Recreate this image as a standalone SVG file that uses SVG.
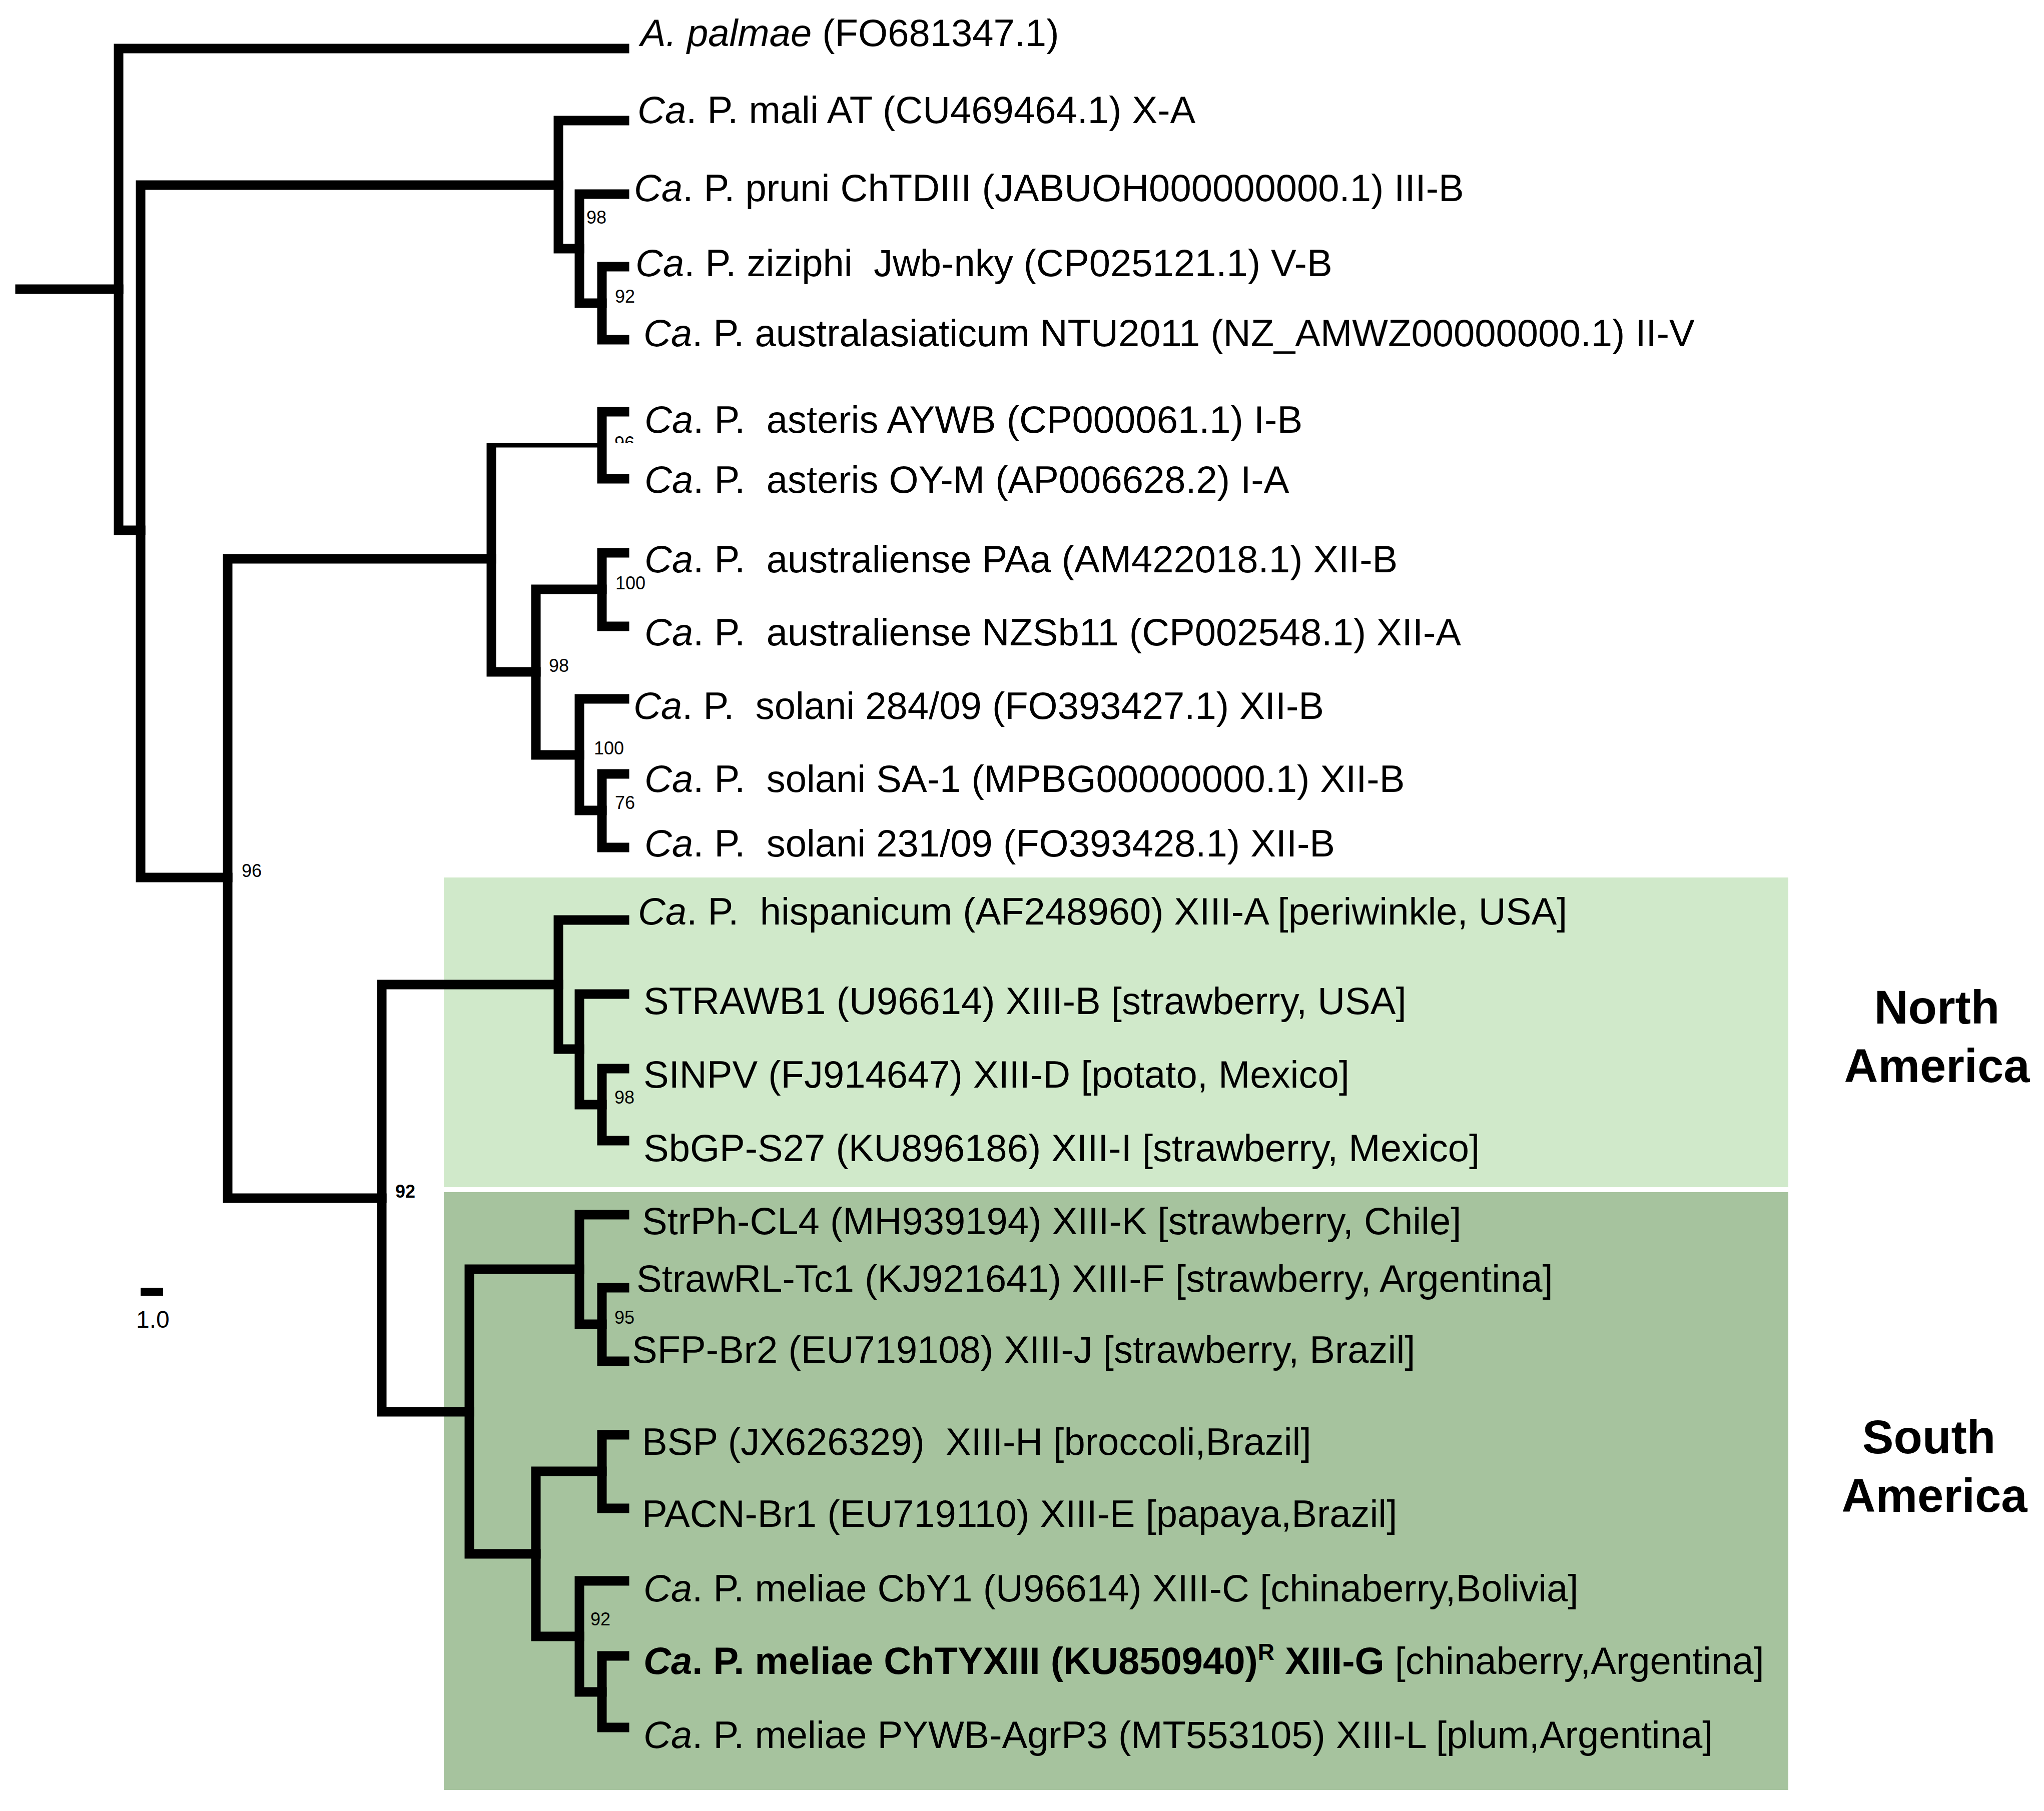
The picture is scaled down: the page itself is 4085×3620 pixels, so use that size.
<svg xmlns="http://www.w3.org/2000/svg" width="4085" height="3620" viewBox="0 0 4085 3620">
<defs>
<style>
.br{fill:none;stroke:#000;stroke-width:19;stroke-linecap:square;stroke-linejoin:miter}
.thin{fill:none;stroke:#000;stroke-width:9;stroke-linecap:butt}
.lf{font-family:"Liberation Sans",Arial,sans-serif;font-size:76px;fill:#000}
.bs{font-family:"Liberation Sans",Arial,sans-serif;font-size:36px;fill:#000}
.rg{font-family:"Liberation Sans",Arial,sans-serif;font-size:94px;font-weight:bold;fill:#000;text-anchor:middle}
.i{font-style:italic}
.b{font-weight:bold}
</style>
<clipPath id="clip96"><rect x="1200" y="850" width="100" height="36"/></clipPath>
</defs>
<rect width="4085" height="3620" fill="#fff"/>
<g id="clade-north-america"><rect x="887" y="1754" width="2687" height="619" fill="#d0e9ca"/></g>
<g id="clade-south-america"><rect x="887" y="2383" width="2687" height="1195" fill="#a6c39e"/></g>
<g id="connectors">
<path class="br" d="M40 578 H237"/>
<path class="br" d="M1248 97 H237 V1060 H281"/>
<path class="br" d="M1116 370 H281 V1754 H455"/>
<path class="br" d="M1248 241 H1116 V497 H1158"/>
<path class="br" d="M1248 388 H1158 V606 H1203"/>
<path class="br" d="M1248 533 H1203 V679 H1248"/>
<path class="br" d="M982 1117 H455 V2395 H763"/>
<path class="br" d="M982 895 V1343 H1071"/>
<path class="thin" d="M982 890 H1203"/>
<path class="br" d="M1248 823 H1203 V957 H1248"/>
<path class="br" d="M1203 1178 H1071 V1509 H1158"/>
<path class="br" d="M1248 1105 H1203 V1252 H1248"/>
<path class="br" d="M1248 1397 H1158 V1620 H1203"/>
<path class="br" d="M1248 1547 H1203 V1694 H1248"/>
<path class="br" d="M1116 1968 H763 V2822 H938"/>
<path class="br" d="M1248 1839 H1116 V2097 H1158"/>
<path class="br" d="M1248 1987 H1158 V2208 H1203"/>
<path class="br" d="M1248 2136 H1203 V2280 H1248"/>
<path class="br" d="M1158 2537 H938 V3106 H1071"/>
<path class="br" d="M1248 2428 H1158 V2647 H1203"/>
<path class="br" d="M1248 2574 H1203 V2721 H1248"/>
<path class="br" d="M1203 2941 H1071 V3271 H1158"/>
<path class="br" d="M1248 2868 H1203 V3015 H1248"/>
<path class="br" d="M1248 3160 H1158 V3382 H1203"/>
<path class="br" d="M1248 3310 H1203 V3453 H1248"/>
</g>
<g id="bootstrap">
<text class="bs" x="1172" y="447">98</text>
<text class="bs" x="1229" y="605">92</text>
<text class="bs" x="1228" y="898" clip-path="url(#clip96)">96</text>
<text class="bs" x="1230" y="1178">100</text>
<text class="bs" x="1097" y="1343">98</text>
<text class="bs" x="1187" y="1508">100</text>
<text class="bs" x="1229" y="1617">76</text>
<text class="bs" x="483" y="1753">96</text>
<text class="bs" x="1228" y="2206">98</text>
<text class="bs b" x="790" y="2394">92</text>
<text class="bs" x="1228" y="2646">95</text>
<text class="bs" x="1180" y="3249">92</text>
</g>
<g id="scale-bar">
<rect x="281" y="2574" width="45" height="16" fill="#000"/>
<text class="bs" x="272" y="2654" style="font-size:48px">1.0</text>
</g>
<g id="leaf-palmae"><text class="lf" x="1280" y="92"><tspan class="i">A. palmae</tspan> (FO681347.1)</text></g>
<g id="leaf-mali"><text class="lf" x="1274" y="246"><tspan class="i">Ca</tspan>. P. mali AT (CU469464.1) X-A</text></g>
<g id="leaf-pruni"><text class="lf" x="1267" y="402"><tspan class="i">Ca</tspan>. P. pruni ChTDIII (JABUOH000000000.1) III-B</text></g>
<g id="leaf-ziziphi"><text class="lf" x="1270" y="552"><tspan class="i">Ca</tspan>. P. ziziphi &#160;Jwb-nky (CP025121.1) V-B</text></g>
<g id="leaf-australasiaticum"><text class="lf" x="1286" y="692"><tspan class="i">Ca</tspan>. P. australasiaticum NTU2011 (NZ_AMWZ00000000.1) II-V</text></g>
<g id="leaf-asteris-aywb"><text class="lf" x="1288" y="865"><tspan class="i">Ca</tspan>. P. &#160;asteris AYWB (CP000061.1) I-B</text></g>
<g id="leaf-asteris-oym"><text class="lf" x="1288" y="985"><tspan class="i">Ca</tspan>. P. &#160;asteris OY-M (AP006628.2) I-A</text></g>
<g id="leaf-australiense-paa"><text class="lf" x="1288" y="1144"><tspan class="i">Ca</tspan>. P. &#160;australiense PAa (AM422018.1) XII-B</text></g>
<g id="leaf-australiense-nzsb11"><text class="lf" x="1288" y="1290"><tspan class="i">Ca</tspan>. P. &#160;australiense NZSb11 (CP002548.1) XII-A</text></g>
<g id="leaf-solani-284"><text class="lf" x="1266" y="1437"><tspan class="i">Ca</tspan>. P. &#160;solani 284/09 (FO393427.1) XII-B</text></g>
<g id="leaf-solani-sa1"><text class="lf" x="1288" y="1583"><tspan class="i">Ca</tspan>. P. &#160;solani SA-1 (MPBG00000000.1) XII-B</text></g>
<g id="leaf-solani-231"><text class="lf" x="1288" y="1712"><tspan class="i">Ca</tspan>. P. &#160;solani 231/09 (FO393428.1) XII-B</text></g>
<g id="leaf-hispanicum"><text class="lf" x="1275" y="1848"><tspan class="i">Ca</tspan>. P. &#160;hispanicum (AF248960) XIII-A [periwinkle, USA]</text></g>
<g id="leaf-strawb1"><text class="lf" x="1286" y="2027">STRAWB1 (U96614) XIII-B [strawberry, USA]</text></g>
<g id="leaf-sinpv"><text class="lf" x="1286" y="2174">SINPV (FJ914647) XIII-D [potato, Mexico]</text></g>
<g id="leaf-sbgp"><text class="lf" x="1286" y="2321">SbGP-S27 (KU896186) XIII-I [strawberry, Mexico]</text></g>
<g id="leaf-strph"><text class="lf" x="1283" y="2467">StrPh-CL4 (MH939194) XIII-K [strawberry, Chile]</text></g>
<g id="leaf-strawrl"><text class="lf" x="1272" y="2582">StrawRL-Tc1 (KJ921641) XIII-F [strawberry, Argentina]</text></g>
<g id="leaf-sfp"><text class="lf" x="1263" y="2724">SFP-Br2 (EU719108) XIII-J [strawberry, Brazil]</text></g>
<g id="leaf-bsp"><text class="lf" x="1283" y="2908">BSP (JX626329) &#160;XIII-H [broccoli,Brazil]</text></g>
<g id="leaf-pacn"><text class="lf" x="1283" y="3052">PACN-Br1 (EU719110) XIII-E [papaya,Brazil]</text></g>
<g id="leaf-cby1"><text class="lf" x="1286" y="3201"><tspan class="i">Ca</tspan>. P. meliae CbY1 (U96614) XIII-C [chinaberry,Bolivia]</text></g>
<g id="leaf-chtyxiii"><text class="lf" x="1286" y="3346"><tspan class="b i">Ca</tspan><tspan class="b">. P. meliae ChTYXIII (KU850940)</tspan><tspan class="b" dy="-28" style="font-size:46px">R</tspan><tspan class="b" dy="28"> XIII-G</tspan> [chinaberry,Argentina]</text></g>
<g id="leaf-pywb"><text class="lf" x="1286" y="3494"><tspan class="i">Ca</tspan>. P. meliae PYWB-AgrP3 (MT553105) XIII-L [plum,Argentina]</text></g>
<g id="label-north-america"><text class="rg" x="3871" y="2046">North</text><text class="rg" x="3871" y="2163">America</text></g>
<g id="label-south-america"><text class="rg" x="3855" y="2905">South</text><text class="rg" x="3866" y="3022">America</text></g>
</svg>
